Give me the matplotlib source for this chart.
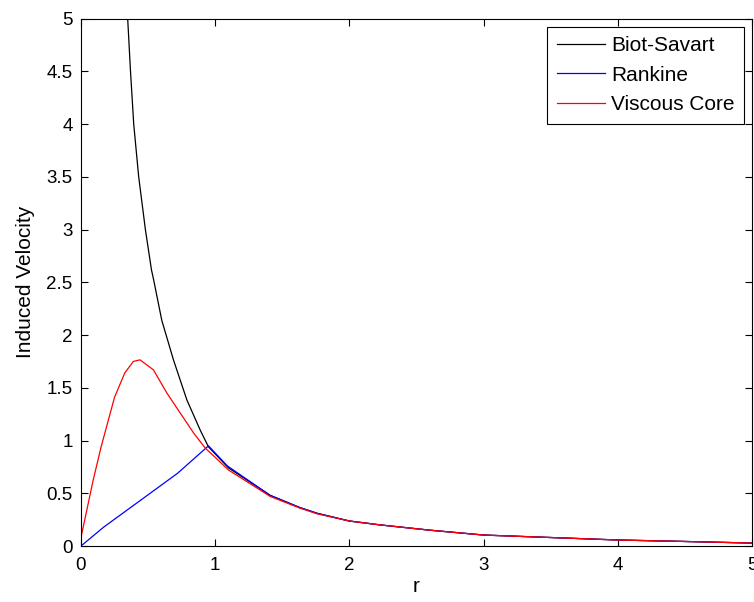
import matplotlib
matplotlib.use("Agg")
import matplotlib.pyplot as plt

plt.rcParams["font.family"] = ["Liberation Sans", "DejaVu Sans"]

# Biot-Savart curve
r_bs = [0.33, 0.348, 0.369, 0.393, 0.43, 0.48, 0.525, 0.542, 0.602, 0.689, 0.789, 0.888, 0.95,
        1.1, 1.41, 1.63, 1.76, 2.0, 2.23, 2.6, 3.0, 3.47, 4.0, 4.47, 5.0]
v_bs = [5.3, 5.0, 4.5, 4.0, 3.5, 3.0, 2.62, 2.52, 2.14, 1.765, 1.385, 1.10, 0.94,
        0.74, 0.48, 0.365, 0.31, 0.237, 0.2, 0.15, 0.104, 0.082, 0.057, 0.044, 0.028]

# Rankine curve
r_rk = [0.0, 0.17, 0.44, 0.72, 0.95, 1.09, 1.41, 1.63, 1.76,
        2.0, 2.23, 2.6, 3.0, 3.47, 4.0, 4.47, 5.0]
v_rk = [0.0, 0.18, 0.43, 0.69, 0.95, 0.76, 0.48, 0.365, 0.31,
        0.237, 0.2, 0.15, 0.104, 0.082, 0.057, 0.044, 0.028]

# Viscous core curve
r_vc = [0.0, 0.09, 0.15, 0.25, 0.326, 0.39, 0.44, 0.54, 0.64, 0.74, 0.84, 0.925, 1.1,
        1.41, 1.63, 1.76, 2.0, 2.23, 2.6, 3.0, 3.47, 4.0, 4.47, 5.0]
v_vc = [0.08, 0.62, 0.94, 1.41, 1.64, 1.75, 1.765, 1.67, 1.45, 1.26, 1.07, 0.93, 0.72,
        0.47, 0.36, 0.305, 0.237, 0.2, 0.15, 0.104, 0.082, 0.057, 0.044, 0.028]

fig = plt.figure(figsize=(7.54, 6.02), dpi=100)
ax = fig.add_axes([0.1074, 0.093, 0.89, 0.876])

ax.plot(r_bs, v_bs, color="black", lw=0.9, label="Biot-Savart")
ax.plot(r_rk, v_rk, color="blue", lw=0.9, label="Rankine")
ax.plot(r_vc, v_vc, color="red", lw=0.9, label="Viscous Core")

ax.set_xlim(0, 5)
ax.set_ylim(0, 5)
ax.set_xticks([0, 1, 2, 3, 4, 5])
ax.set_yticks([0, 0.5, 1, 1.5, 2, 2.5, 3, 3.5, 4, 4.5, 5])
ax.set_yticklabels(["0", "0.5", "1", "1.5", "2", "2.5", "3", "3.5", "4", "4.5", "5"])
ax.tick_params(direction="in", top=True, right=True, labelsize=13.5, length=5, width=0.8, pad=6)
ax.tick_params(axis="x", pad=8)
for s in ax.spines.values():
    s.set_linewidth(0.8)

ax.set_xlabel("r", fontsize=15, labelpad=2)
ax.set_ylabel("Induced Velocity", fontsize=15, labelpad=8)

leg = ax.legend(loc="upper right", fontsize=15, fancybox=False, framealpha=1,
                edgecolor="black", handlelength=2.3, handletextpad=0.3,
                borderaxespad=0.4, borderpad=0.45, labelspacing=0.5)
leg.get_frame().set_linewidth(0.8)

fig.savefig("out.png", dpi=100)
